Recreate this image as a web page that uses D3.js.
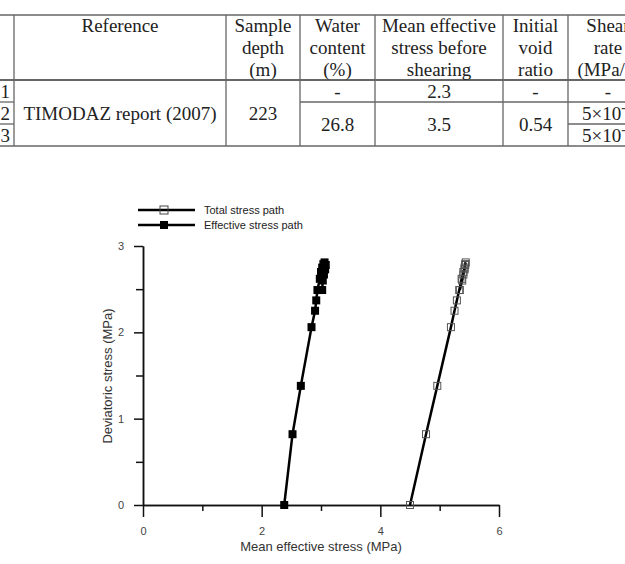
<!DOCTYPE html>
<html>
<head>
<meta charset="utf-8">
<script src="https://d3js.org/d3.v7.min.js"></script>
<style>
body { margin: 0; background: white; }
svg { display: block; }
.tbl text { font-family: "Liberation Serif", "Times New Roman", serif; font-size: 19px; fill: #222; }
.chart text { font-family: "Liberation Sans", Arial, sans-serif; }
</style>
</head>
<body>
<svg id="fig" width="625" height="564"></svg>
<script>
// ---- table contents ----
var headers = [
  [""],
  ["Reference"],
  ["Sample", "depth", "(m)"],
  ["Water", "content", "(%)"],
  ["Mean effective", "stress before", "shearing"],
  ["Initial", "void", "ratio"],
  ["Shear", "rate", "(MPa/s)"]
];
var rowIds = ["1", "2", "3"];
var refName = "TIMODAZ report (2007)";
var depth = "223";
var waterContent = ["-", "26.8"];
var meanStress = ["2.3", "3.5"];
var voidRatio = ["-", "0.54"];
var shearRate = ["-", "5×10⁻⁴", "5×10⁻⁵"];

// ---- chart data ----
var totalP = [4.50, 4.77, 4.96, 5.19, 5.25, 5.29, 5.33, 5.37, 5.40, 5.42, 5.43, 5.44, 5.43, 5.42, 5.40, 5.38, 5.34];
var effP   = [2.38, 2.52, 2.66, 2.84, 2.90, 2.92, 2.94, 2.98, 3.00, 3.02, 3.04, 3.06, 3.08, 3.07, 3.05, 3.03, 3.02];
var devQ   = [0, 0.82, 1.38, 2.06, 2.25, 2.37, 2.49, 2.62, 2.70, 2.75, 2.79, 2.81, 2.78, 2.73, 2.67, 2.60, 2.49];
var xTicks = [0, 2, 4, 6];
var xMinor = [1, 3, 5];
var yTicks = [0, 1, 2, 3];
var yMinor = [0.5, 1.5, 2.5];
var seriesNames = ["Total stress path", "Effective stress path"];

var svg = d3.select("#fig");

// ================= table =================
var tbl = svg.append("g").attr("class", "tbl");
var colX = [-30, 14, 226, 300, 375, 503, 568, 648];
var lineCol = "#666";
var yTop = 15, yHead = 80, yR1 = 102, yR2 = 124, yBot = 146;

function hline(x1, x2, y, w, c) {
  tbl.append("line").attr("x1", x1).attr("x2", x2).attr("y1", y).attr("y2", y)
    .attr("stroke", c || lineCol).attr("stroke-width", w || 1.3);
}
hline(0, 625, yTop);
hline(0, 625, yHead, 1.4, "#333");
hline(0, 625, yBot);
hline(0, colX[1], yR1); hline(colX[3], 625, yR1);
hline(0, colX[1], yR2); hline(colX[6], 625, yR2);

colX.slice(1).forEach(function(x) {
  tbl.append("line").attr("x1", x).attr("x2", x).attr("y1", yTop).attr("y2", yBot)
    .attr("stroke", lineCol).attr("stroke-width", 1.3);
});

function cx(i) { return (colX[i] + colX[i + 1]) / 2; }
function cell(i, y, txt) {
  tbl.append("text").attr("x", cx(i)).attr("y", y).attr("text-anchor", "middle")
    .attr("dy", "0.35em").text(txt);
}
headers.forEach(function(h, i) {
  h.forEach(function(t, k) { cell(i, 25 + k * 22, t); });
});
rowIds.forEach(function(r, k) {
  tbl.append("text").attr("x", 10).attr("y", 91 + k * 22).attr("dy", "0.35em")
    .attr("text-anchor", "end").text(r);
});
cell(1, 113, refName);
cell(2, 113, depth);
cell(3, 91, waterContent[0]); cell(3, 124, waterContent[1]);
cell(4, 91, meanStress[0]);   cell(4, 124, meanStress[1]);
cell(5, 91, voidRatio[0]);    cell(5, 124, voidRatio[1]);
cell(6, 91, shearRate[0]); cell(6, 113, shearRate[1]); cell(6, 135, shearRate[2]);

// ================= chart =================
var ch = svg.append("g").attr("class", "chart");
var x = d3.scaleLinear().domain([0, 6]).range([143, 499]);
var y = d3.scaleLinear().domain([0, 3]).range([505, 246]);

function styleAxis(g) {
  g.selectAll("path.domain").attr("stroke", "#111").attr("stroke-width", 1.5);
  g.selectAll("line").attr("stroke", "#111").attr("stroke-width", 1.5);
  g.selectAll("text").attr("font-size", 11).attr("fill", "#444")
    .attr("font-family", "Liberation Sans, Arial, sans-serif");
}

var gx = ch.append("g").attr("transform", "translate(0,505)")
  .call(d3.axisBottom(x).tickValues(xTicks).tickFormat(d3.format("d")).tickSize(12).tickSizeOuter(0).tickPadding(10));
styleAxis(gx);
var gxm = ch.append("g").attr("transform", "translate(0,505)")
  .call(d3.axisBottom(x).tickValues(xMinor).tickFormat("").tickSize(6).tickSizeOuter(0));
styleAxis(gxm);

var gy = ch.append("g").attr("transform", "translate(143,0)")
  .call(d3.axisLeft(y).tickValues(yTicks).tickFormat(d3.format("d")).tickSize(9).tickSizeOuter(0).tickPadding(10));
styleAxis(gy);
var gym = ch.append("g").attr("transform", "translate(143,0)")
  .call(d3.axisLeft(y).tickValues(yMinor).tickFormat("").tickSize(7).tickSizeOuter(0));
styleAxis(gym);

ch.append("text").attr("x", 321).attr("y", 551).attr("text-anchor", "middle")
  .attr("font-size", 13).attr("fill", "#333").text("Mean effective stress (MPa)");
ch.append("text").attr("transform", "translate(112,376) rotate(-90)")
  .attr("text-anchor", "middle").attr("font-size", 13).attr("fill", "#333")
  .text("Deviatoric stress (MPa)");

var totalPts = totalP.map(function(p, i) { return [p, devQ[i]]; });
var effPts = effP.map(function(p, i) { return [p, devQ[i]]; });
var line = d3.line().x(function(d) { return x(d[0]); }).y(function(d) { return y(d[1]); });

ch.append("path").datum(effPts).attr("d", line)
  .attr("fill", "none").attr("stroke", "#000").attr("stroke-width", 2.5);
ch.selectAll("rect.eff").data(effPts).enter().append("rect").attr("class", "eff")
  .attr("x", function(d) { return x(d[0]) - 4; }).attr("y", function(d) { return y(d[1]) - 4; })
  .attr("width", 8).attr("height", 8).attr("fill", "#000");

ch.append("path").datum(totalPts).attr("d", line)
  .attr("fill", "none").attr("stroke", "#000").attr("stroke-width", 2.5);
ch.selectAll("rect.tot").data(totalPts).enter().append("rect").attr("class", "tot")
  .attr("x", function(d) { return x(d[0]) - 3.5; }).attr("y", function(d) { return y(d[1]) - 3.5; })
  .attr("width", 7).attr("height", 7).attr("fill", "none").attr("stroke", "#555").attr("stroke-width", 1);

// legend
var leg = ch.append("g");
seriesNames.forEach(function(name, i) {
  var ly = 210 + i * 15;
  leg.append("line").attr("x1", 138).attr("x2", 195).attr("y1", ly).attr("y2", ly)
    .attr("stroke", "#000").attr("stroke-width", 2.5);
  var r = leg.append("rect").attr("x", 160).attr("y", ly - 4).attr("width", 8).attr("height", 8);
  if (i === 0) r.attr("fill", "none").attr("stroke", "#444").attr("stroke-width", 1);
  else r.attr("fill", "#000");
  leg.append("text").attr("x", 204).attr("y", ly).attr("dy", "0.35em")
    .attr("font-size", 11).attr("fill", "#222").text(name);
});
</script>
</body>
</html>
